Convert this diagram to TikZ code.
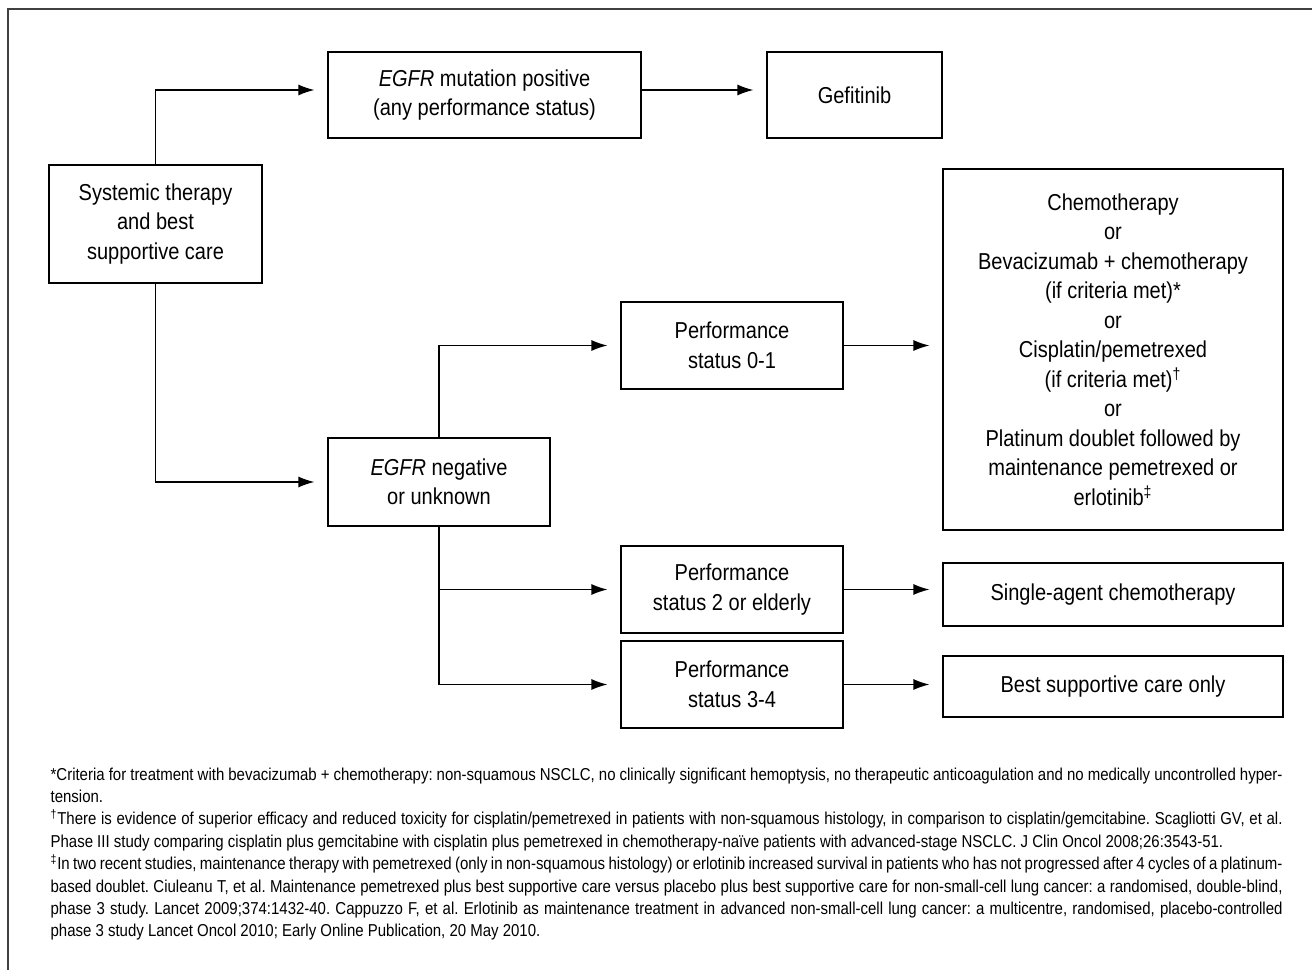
\documentclass[tikz,border=0pt]{standalone}
\usepackage{fontspec}
\setmainfont{Liberation Sans}[FakeStretch=0.87]
\usetikzlibrary{arrows.meta}
\frenchspacing

\begin{document}
\begin{tikzpicture}[x=0.2mm, y=-0.2mm, line width=0.7pt,
    >={Latex[length=3.2mm,width=2.2mm]},
    box/.style={draw, align=center, inner sep=0pt,
      font=\fontsize{13.1}{16.8}\selectfont},
    flow/.style={->, shorten >=2.6mm}]
  \useasboundingbox (0,0) rectangle (1312,970);

  % Marco
  \draw[line width=0.6pt, black!75] (8,970) -- (8,9) -- (1312,9);

  % Cajas
  \node[box, minimum width=42.6mm, minimum height=23.6mm] (sys) at (155.5,224)
    {Systemic therapy\\and best\\supportive care};
  \node[box, minimum width=62.6mm, minimum height=17.2mm] (egfrpos) at (484.5,95)
    {\textit{EGFR} mutation positive\\(any performance status)};
  \node[box, minimum width=35mm, minimum height=17.2mm] (gef) at (854.5,95)
    {Gefitinib};
  \node[box, minimum width=44.4mm, minimum height=17.6mm] (egfrneg) at (439,482)
    {\textit{EGFR} negative\\or unknown};
  \node[box, minimum width=44.4mm, minimum height=17.4mm] (ps01) at (732,345.5)
    {Performance\\status 0-1};
  \node[box, minimum width=44.4mm, minimum height=17.4mm] (ps2) at (732,589.5)
    {Performance\\status 2 or elderly};
  \node[box, minimum width=44.4mm, minimum height=17.4mm] (ps34) at (732,684.5)
    {Performance\\status 3-4};
  \node[box, minimum width=68mm, minimum height=72.2mm] (chemo) at (1113,349.5)
    {Chemotherapy\\or\\Bevacizumab + chemotherapy\\(if criteria met)*\\or\\
     Cisplatin/pemetrexed\\(if criteria met)\textsuperscript{†}\\or\\
     Platinum doublet followed by\\maintenance pemetrexed or\\
     erlotinib\textsuperscript{‡}};
  \node[box, minimum width=68mm, minimum height=12.6mm] (single) at (1113,594.5)
    {Single-agent chemotherapy};
  \node[box, minimum width=68mm, minimum height=12.2mm] (bsc) at (1113,686.5)
    {Best supportive care only};

  % Flechas
  \draw[flow] (sys.north) |- ([yshift=1mm]egfrpos.west);
  \draw[flow] ([yshift=1mm]egfrpos.east) -- ([yshift=1mm]gef.west);
  \draw[flow] (sys.south) |- (egfrneg.west);
  \draw[flow] (egfrneg.north) |- (ps01.west);
  \draw[flow] (ps01.east) -- (ps01.east -| chemo.west);
  \draw[flow] (egfrneg.south) |- (ps2.west);
  \draw[flow] (egfrneg.south) |- (ps34.west);
  \draw[flow] (ps2.east) -- (ps2.east -| single.west);
  \draw[flow] (ps34.east) -- (ps34.east -| bsc.west);

  % Notas
  \node[anchor=north west, inner sep=0pt, text width=246.4mm, align=justify,
    font=\fontsize{9.8}{12.75}\selectfont] (notes) at (50,767)
    {\tolerance=9999 \emergencystretch=2em
    *Criteria for treatment with bevacizumab + chemotherapy: non-squamous NSCLC, no clinically significant hemoptysis, no therapeutic anticoagulation and no medically uncontrolled hyper-\linebreak tension.\par
    \textsuperscript{†}There is evidence of superior efficacy and reduced toxicity for cisplatin/pemetrexed in patients with non-squamous histology, in comparison to cisplatin/gemcitabine. Scagliotti GV, et al.\linebreak Phase III study comparing cisplatin plus gemcitabine with cisplatin plus pemetrexed in chemotherapy-naïve patients with advanced-stage NSCLC. J Clin Oncol 2008;26:3543-51.\par
    \textsuperscript{‡}In two recent studies, maintenance therapy with pemetrexed (only in non-squamous histology) or erlotinib increased survival in patients who has not progressed after 4 cycles of a platinum-\linebreak based doublet. Ciuleanu T, et al. Maintenance pemetrexed plus best supportive care versus placebo plus best supportive care for non-small-cell lung cancer: a randomised, double-blind,\linebreak phase 3 study. Lancet 2009;374:1432-40. Cappuzzo F, et al. Erlotinib as maintenance treatment in advanced non-small-cell lung cancer: a multicentre, randomised, placebo-controlled\linebreak phase 3 study Lancet Oncol 2010; Early Online Publication, 20 May 2010.};
\end{tikzpicture}
\end{document}
